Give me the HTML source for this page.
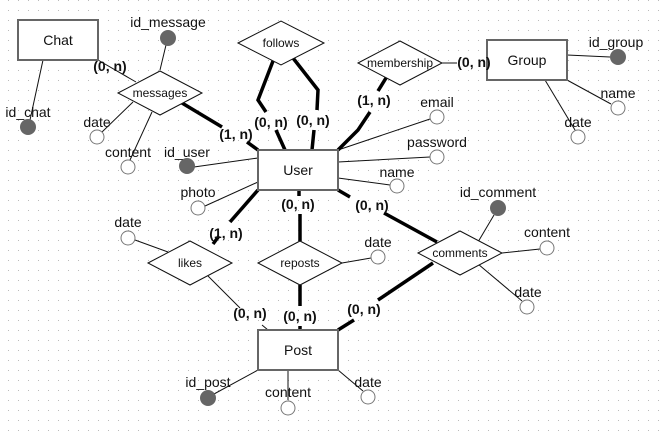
<!DOCTYPE html>
<html><head><meta charset="utf-8"><style>
html,body{margin:0;padding:0;background:#fff;}
svg{display:block;font-family:"Liberation Sans",sans-serif;}
.t{font-size:14px;fill:#111;text-anchor:middle;}
.d{font-size:12px;fill:#111;text-anchor:middle;}
.c{font-size:14px;font-weight:bold;fill:#111;text-anchor:middle;}
</style></head><body>
<svg width="659" height="431" viewBox="0 0 659 431" xmlns="http://www.w3.org/2000/svg">
<defs><pattern id="g" x="8" y="0" width="10" height="10" patternUnits="userSpaceOnUse"><rect x="0" y="0" width="1" height="1" fill="#bbb"/></pattern></defs>
<rect width="659" height="431" fill="url(#g)"/>
<g stroke="#111" stroke-width="1" fill="none">
<!-- thin lines -->
<line x1="43" y1="60" x2="30" y2="120"/>
<line x1="98" y1="60" x2="136" y2="82"/>
<line x1="160" y1="70" x2="166" y2="45"/>
<line x1="133" y1="102" x2="102" y2="132"/>
<line x1="152" y1="112" x2="130" y2="160"/>
<line x1="194" y1="167" x2="258" y2="158"/>
<line x1="442" y1="63" x2="457" y2="63"/>
<line x1="567" y1="55" x2="610" y2="57"/>
<line x1="567" y1="80" x2="611" y2="104"/>
<line x1="545" y1="80" x2="575" y2="130"/>
<line x1="338" y1="150" x2="430" y2="119"/>
<line x1="338" y1="162" x2="430" y2="157"/>
<line x1="338" y1="178" x2="390" y2="185"/>
<line x1="205" y1="206" x2="258" y2="182"/>
<line x1="135" y1="240" x2="168" y2="252"/>
<line x1="208" y1="276" x2="240" y2="308"/>
<line x1="268" y1="330" x2="262" y2="325"/>
<line x1="342" y1="263" x2="371" y2="258"/>
<line x1="478" y1="242" x2="494" y2="215"/>
<line x1="502" y1="253" x2="540" y2="249"/>
<line x1="478" y1="264" x2="522" y2="301"/>
<line x1="258" y1="370" x2="214" y2="394"/>
<line x1="288" y1="370" x2="288" y2="400"/>
<line x1="338" y1="370" x2="363" y2="391"/>
</g>
<g stroke="#000" stroke-width="3.5" fill="none" stroke-linejoin="miter">
<polyline points="182,103 222,127"/>
<polyline points="247,142 258,150"/>
<polyline points="273,61 258,100 266,112"/>
<polyline points="276,130 285,150"/>
<polyline points="293,58 318,90 317,110"/>
<polyline points="314,130 312,150"/>
<polyline points="386,78 378,91"/>
<polyline points="370,112 358,130 338,150"/>
<polyline points="258,190 230,222"/>
<polyline points="219,236 213,244"/>
<polyline points="299,190 299,196"/>
<polyline points="300,214 300,241"/>
<polyline points="300,285 300,306"/>
<polyline points="300,326 300,330"/>
<polyline points="338,190 350,197"/>
<polyline points="384,213 437,242"/>
<polyline points="433,263 378,300"/>
<polyline points="354,320 338,330"/>
</g>
<!-- entities -->
<g fill="#fff" stroke="#666" stroke-width="2">
<rect x="18" y="20" width="80" height="40"/>
<rect x="487" y="40" width="80" height="40"/>
<rect x="258" y="150" width="80" height="40"/>
<rect x="258" y="330" width="80" height="40"/>
</g>
<text class="t" x="58" y="45">Chat</text>
<text class="t" x="527" y="65">Group</text>
<text class="t" x="298" y="175">User</text>
<text class="t" x="298" y="355">Post</text>
<!-- diamonds -->
<g fill="#fff" stroke="#111" stroke-width="1">
<polygon points="118,93 160,71 202,93 160,115"/>
<polygon points="238,43 281,21 324,43 281,65"/>
<polygon points="358,63 400,41 442,63 400,85"/>
<polygon points="148,263 190,241 232,263 190,285"/>
<polygon points="258,263 300,241 342,263 300,285"/>
<polygon points="418,253 460,231 502,253 460,275"/>
</g>
<text class="d" x="160" y="97">messages</text>
<text class="d" x="281" y="47">follows</text>
<text class="d" x="400" y="67">membership</text>
<text class="d" x="190" y="267">likes</text>
<text class="d" x="300" y="267">reposts</text>
<text class="d" x="460" y="257">comments</text>
<!-- attributes -->
<g fill="#666">
<circle cx="28" cy="127" r="8"/>
<circle cx="168" cy="38" r="8"/>
<circle cx="187" cy="166" r="8"/>
<circle cx="618" cy="57" r="8"/>
<circle cx="498" cy="208" r="8"/>
<circle cx="208" cy="398" r="8"/>
</g>
<g fill="#fff" stroke="#777" stroke-width="1">
<circle cx="97" cy="137" r="7"/>
<circle cx="128" cy="167" r="7"/>
<circle cx="618" cy="108" r="7"/>
<circle cx="578" cy="137" r="7"/>
<circle cx="437" cy="117" r="7"/>
<circle cx="437" cy="157" r="7"/>
<circle cx="397" cy="186" r="7"/>
<circle cx="198" cy="208" r="7"/>
<circle cx="128" cy="238" r="7"/>
<circle cx="378" cy="257" r="7"/>
<circle cx="547" cy="248" r="7"/>
<circle cx="527" cy="307" r="7"/>
<circle cx="288" cy="408" r="7"/>
<circle cx="368" cy="397" r="7"/>
</g>
<text class="t" x="28" y="117">id_chat</text>
<text class="t" x="168" y="27">id_message</text>
<text class="t" x="187" y="157">id_user</text>
<text class="t" x="616" y="47">id_group</text>
<text class="t" x="618" y="98">name</text>
<text class="t" x="578" y="127">date</text>
<text class="t" x="97" y="127">date</text>
<text class="t" x="128" y="157">content</text>
<text class="t" x="437" y="107">email</text>
<text class="t" x="437" y="147">password</text>
<text class="t" x="397" y="177">name</text>
<text class="t" x="198" y="197">photo</text>
<text class="t" x="128" y="227">date</text>
<text class="t" x="378" y="247">date</text>
<text class="t" x="498" y="197">id_comment</text>
<text class="t" x="547" y="237">content</text>
<text class="t" x="528" y="297">date</text>
<text class="t" x="208" y="387">id_post</text>
<text class="t" x="288" y="397">content</text>
<text class="t" x="368" y="387">date</text>
<!-- cardinalities -->
<text class="c" x="110" y="71">(0, n)</text>
<text class="c" x="236" y="139">(1, n)</text>
<text class="c" x="271" y="127">(0, n)</text>
<text class="c" x="313" y="125">(0, n)</text>
<text class="c" x="374" y="105">(1, n)</text>
<text class="c" x="474" y="67">(0, n)</text>
<text class="c" x="298" y="209">(0, n)</text>
<text class="c" x="372" y="210">(0, n)</text>
<text class="c" x="226" y="238">(1, n)</text>
<text class="c" x="250" y="318">(0, n)</text>
<text class="c" x="300" y="321">(0, n)</text>
<text class="c" x="364" y="314">(0, n)</text>
</svg>
</body></html>
